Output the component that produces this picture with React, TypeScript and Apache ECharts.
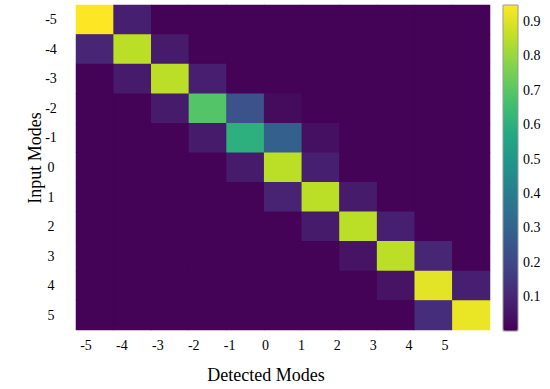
import React, { useEffect, useRef } from "react";
import * as echarts from "echarts";

const modes = ["-5", "-4", "-3", "-2", "-1", "0", "1", "2", "3", "4", "5"];
const tickValues = [-5, -4, -3, -2, -1, 0, 1, 2, 3, 4, 5];
const colorbarTicks = [0.1, 0.2, 0.3, 0.4, 0.5, 0.6, 0.7, 0.8, 0.9];
const b = 0.005;
// rows: input modes (-5..5), columns: detected modes (-5..5)
const matrix = [
  [0.95, 0.08, b, b, b, b, b, b, b, b, b],
  [0.1, 0.85, 0.07, b, b, b, b, b, b, b, b],
  [b, 0.07, 0.85, 0.08, b, b, b, b, b, b, b],
  [b, b, 0.07, 0.69, 0.24, 0.03, b, b, b, b, b],
  [b, b, b, 0.07, 0.6, 0.29, 0.04, b, b, b, b],
  [b, b, b, b, 0.07, 0.85, 0.08, b, b, b, b],
  [b, b, b, b, b, 0.09, 0.85, 0.07, b, b, b],
  [b, b, b, b, b, b, 0.07, 0.85, 0.08, b, b],
  [b, b, b, b, b, b, b, 0.05, 0.85, 0.1, b],
  [b, b, b, b, b, b, b, b, 0.05, 0.91, 0.08],
  [b, b, b, b, b, b, b, b, b, 0.12, 0.92],
];
const viridis = [
  "#440154", "#482475", "#414487", "#355f8d", "#2a788e", "#21918c",
  "#22a884", "#44bf70", "#7ad151", "#bddf26", "#fde725",
];
const vMin = 0;
const vMax = 0.948;

const FONT = "'Liberation Serif', 'Times New Roman', serif";

export default function App() {
  const ref = useRef<HTMLDivElement>(null);
  useEffect(() => {
    if (!ref.current) return;
    document.body.style.margin = "0";
    const chart = echarts.init(ref.current, null, { renderer: "svg" });
    const data: number[][] = [];
    matrix.forEach((row, r) => row.forEach((v, c) => data.push([c, r, v])));
    chart.setOption({
      animation: false,
      backgroundColor: "#fff",
      textStyle: { fontFamily: FONT, color: "#000" },
      grid: [
        { left: 76, top: 5, width: 414, height: 327, show: true, backgroundColor: "#450458", borderWidth: 0 },
        { left: 503, top: 5, width: 15, height: 326, show: true, borderColor: "#999", borderWidth: 1, backgroundColor: "transparent", z: 10 },
      ],
      xAxis: [
        {
          type: "category", data: modes, gridIndex: 0,
          axisLine: { show: false }, axisTick: { show: false }, axisLabel: { show: false },
          splitLine: { show: false },
        },
        {
          type: "value", gridIndex: 0, min: -5.279, max: 6.253, position: "bottom",
          axisLine: { show: false }, axisTick: { show: false }, splitLine: { show: false },
          axisLabel: { customValues: tickValues, margin: 8, fontSize: 14, fontFamily: FONT, color: "#000" },
          name: "Detected Modes", nameLocation: "middle", nameGap: 36, nameMoveOverlap: false,
          nameTextStyle: { fontSize: 18, fontFamily: FONT, color: "#000", padding: [0, 34, 0, 0] },
        },
        {
          type: "category", data: [""], gridIndex: 1, show: false,
        },
      ],
      yAxis: [
        {
          type: "category", data: modes, inverse: true, gridIndex: 0,
          axisLine: { show: false }, axisTick: { show: false }, splitLine: { show: false },
          axisLabel: { align: "center", margin: 25, fontSize: 14, fontFamily: FONT, color: "#000" },
          name: "Input Modes", nameLocation: "middle", nameRotate: 90, nameGap: 32, nameMoveOverlap: false,
          nameTextStyle: { fontSize: 18, fontFamily: FONT, color: "#000", padding: [0, 0, 0, 19] },
        },
        {
          type: "value", gridIndex: 1, min: vMin, max: vMax, position: "right",
          axisLine: { show: false }, splitLine: { show: false },
          axisTick: { show: true, inside: true, length: 3, customValues: colorbarTicks, lineStyle: { color: "#666" } },
          axisLabel: { customValues: colorbarTicks, margin: 5, fontSize: 14, fontFamily: FONT, color: "#000" },
        },
      ],
      visualMap: {
        type: "continuous", min: vMin, max: vMax, seriesIndex: 0, show: true,
        calculable: false, left: 503, top: 5, itemWidth: 15, itemHeight: 326,
        padding: 0, text: null, showLabel: false, hoverLink: false,
        inRange: { color: viridis },
      },
      series: [
        {
          type: "heatmap", xAxisIndex: 0, yAxisIndex: 0, data,
          itemStyle: { borderWidth: 0 }, emphasis: { disabled: true },
        },
      ],
    });
    return () => chart.dispose();
  }, []);
  return <div ref={ref} style={{ width: 550, height: 389, position: "absolute", left: 0, top: 0 }} />;
}
